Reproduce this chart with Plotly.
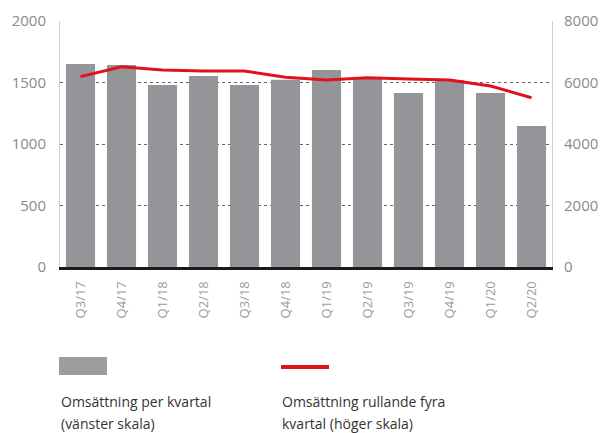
import plotly.graph_objects as go

quarters = ["Q3/17", "Q4/17", "Q1/18", "Q2/18", "Q3/18", "Q4/18",
            "Q1/19", "Q2/19", "Q3/19", "Q4/19", "Q1/20", "Q2/20"]
omsattning_kvartal = [1650, 1642, 1480, 1553, 1480, 1522,
                      1602, 1537, 1415, 1520, 1415, 1146]
omsattning_rullande = [6190, 6514, 6407, 6374, 6374, 6170,
                       6081, 6157, 6110, 6081, 5886, 5506]

left_ticks = [0, 500, 1000, 1500, 2000]
right_ticks = [0, 2000, 4000, 6000, 8000]

legend_lines = [["Omsättning per kvartal", "(vänster skala)"],
                ["Omsättning rullande fyra", "kvartal (höger skala)"]]

bar_color = "#939598"
line_color = "#e3111b"
tick_font = dict(family="Open Sans", size=15, color="#8a8a8a")

H_PLOT = 246
W_PLOT = 492


def py(pix):
    return (433 - 166 - pix) / H_PLOT


def px(pix):
    return (pix - 60) / W_PLOT


fig = go.Figure()
fig.add_trace(go.Bar(x=quarters, y=omsattning_kvartal, marker_color=bar_color,
                     marker_line_width=0, width=0.71, yaxis="y", showlegend=False))
fig.add_trace(go.Scatter(x=quarters, y=omsattning_rullande, mode="lines",
                         line=dict(color=line_color, width=3), yaxis="y2", showlegend=False))

annotations = []
for col, x_left in zip(legend_lines, [60, 281]):
    for line_text, y_c in zip(col, [401, 423]):
        annotations.append(dict(text=line_text, xref="paper", yref="paper",
                                x=px(x_left), y=py(y_c), xanchor="left", yanchor="middle",
                                showarrow=False, borderpad=0,
                                font=dict(family="Open Sans", size=14, color="#333333")))

fig.update_layout(
    width=603, height=433,
    margin=dict(l=60, r=51, t=21, b=166, autoexpand=False),
    paper_bgcolor="white", plot_bgcolor="white",
    bargap=0.29,
    xaxis=dict(tickangle=-90, tickfont=dict(family="Open Sans", size=13, color="#9a9a9a"),
               showline=True, linecolor="#1a1a1a", linewidth=3, showgrid=False,
               ticks="", ticklabelstandoff=6, range=[-0.5, 11.5], automargin=False),
    yaxis=dict(range=[0, 2000], tickvals=left_ticks, tickfont=tick_font,
               showgrid=True, gridcolor="#666666", griddash="dot", gridwidth=1,
               showline=True, linecolor="#d0d0d0", linewidth=1, zeroline=False,
               ticks="", ticklabelstandoff=10, automargin=False),
    yaxis2=dict(range=[0, 8000], tickvals=right_ticks, tickfont=tick_font,
                overlaying="y", side="right", showgrid=False,
                showline=True, linecolor="#d0d0d0", linewidth=1, zeroline=False,
                ticks="", ticklabelstandoff=8, automargin=False),
    shapes=[
        dict(type="rect", xref="paper", yref="paper",
             x0=px(59), x1=px(107), y0=py(375), y1=py(357),
             fillcolor="#9d9d9d", line_width=0),
        dict(type="line", xref="paper", yref="paper",
             x0=px(281), x1=px(329), y0=py(367), y1=py(367),
             line=dict(color=line_color, width=4)),
    ],
    annotations=annotations,
)

fig.write_html("out.html", config={"displayModeBar": False},
               post_script="document.body.style.margin='0';document.body.style.overflow='hidden';")
